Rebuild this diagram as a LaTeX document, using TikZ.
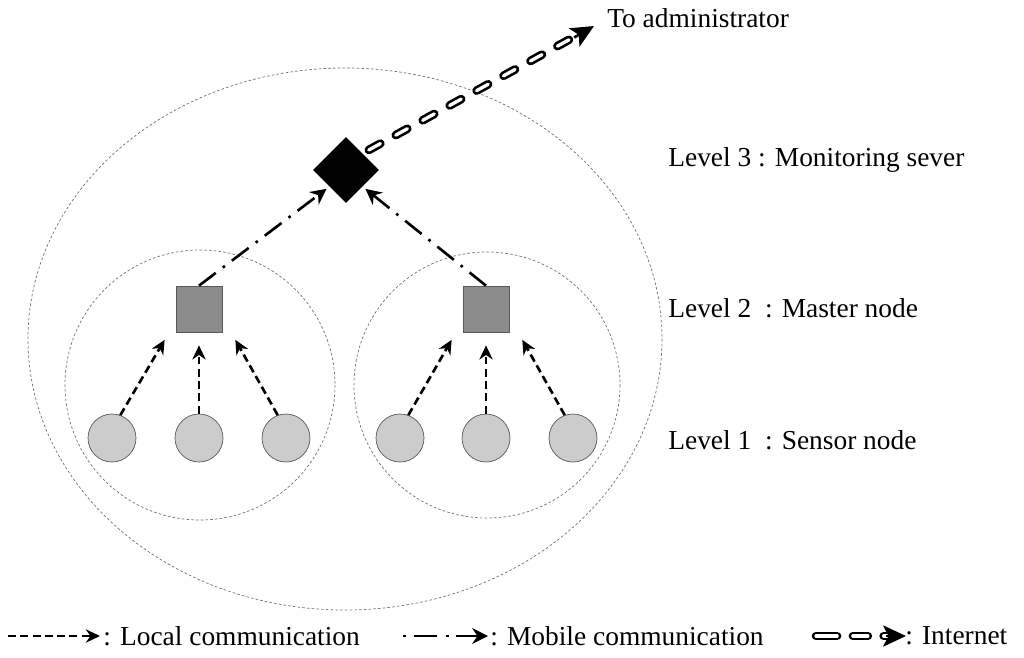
\documentclass[tikz,border=0pt]{standalone}
\usepackage{fontspec}
\setmainfont{Liberation Serif}
\usetikzlibrary{shapes.geometric, arrows.meta, positioning, calc}

\tikzset{
  sensor/.style={circle, draw=black!65, fill=black!20, minimum size=0.96cm, inner sep=0pt},
  master/.style={rectangle, draw=black!65, fill=black!45, minimum size=0.92cm, inner sep=0pt},
  monitor/.style={diamond, fill=black, minimum size=1.32cm, inner sep=0pt},
  zone/.style={draw=black!55, dash pattern=on 1.5pt off 1.2pt, line width=0.4pt},
  local/.style={-{Stealth[length=8pt,width=7.5pt,inset=2.5pt]}, line width=1.5pt, dash pattern=on 4.5pt off 2.5pt},
  mobile/.style={-{Stealth[length=9pt,width=9pt,inset=3pt]}, line width=1.5pt, dash pattern=on 12pt off 5pt on 1.5pt off 5pt},
  internet/.style={line width=1.5pt, double=white, double distance=1.9pt, line cap=round, dash pattern=on 7.5pt off 10pt},
  inettip/.style={-{Stealth[length=13pt,width=12pt,inset=3pt]}, line width=1.5pt},
  txt/.style={anchor=west, font=\fontsize{15.6}{18}\selectfont, inner sep=0pt},
}

\begin{document}
\begin{tikzpicture}[x=0.02cm, y=-0.02cm]
    \useasboundingbox (0,0) rectangle (1024,657);

    % zones
    \draw[zone] (345,339) ellipse [x radius=317, y radius=271];
    \draw[zone] (200,385) circle [radius=135];
    \draw[zone] (487,385) circle [radius=133];

    % level 3
    \node[monitor] (mon) at (346,170) {};

    % level 2
    \node[master] (lm) at (199,309) {};
    \node[master] (rm) at (486,309) {};

    % level 1
    \node[sensor] (s1) at (112,438) {};
    \node[sensor] (s2) at (199,438) {};
    \node[sensor] (s3) at (286,438) {};
    \node[sensor] (s4) at (400,438) {};
    \node[sensor] (s5) at (486,438) {};
    \node[sensor] (s6) at (573,438) {};

    \draw[local] (s1.70) -- ([xshift=-0.22cm,yshift=-0.15cm]lm.south west);
    \draw[local] (s2.north) -- ([yshift=-0.26cm]lm.south);
    \draw[local] (s3.110) -- ([xshift=0.26cm,yshift=-0.15cm]lm.south east);
    \draw[local] (s4.70) -- ([xshift=-0.22cm,yshift=-0.15cm]rm.south west);
    \draw[local] (s5.north) -- ([yshift=-0.26cm]rm.south);
    \draw[local] (s6.110) -- ([xshift=0.26cm,yshift=-0.15cm]rm.south east);

    \draw[mobile, shorten >=2pt] (lm.north) -- (mon.south west);
    \draw[mobile, shorten >=2pt] (rm.north) -- (mon.south east);

    \coordinate (adm) at (594,26);
    \draw[internet, dash phase=13.5pt, shorten >=12pt] (mon.north east) -- (adm);
    \draw[inettip] ($(adm)!13pt!(mon)$) -- (adm);
    \node[txt] (admtxt) at (607,18) {To administrator};

    \node[txt] (lv3) at (668,160) {Level 3 : Monitoring sever};
    \node[txt] (lv2) at (668,308) {Level 2\ \ : Master node};
    \node[txt] (lv1) at (668,440) {Level 1\ \ : Sensor node};

    % legend
    \coordinate (la) at (8,636);   \coordinate (lb) at (100,636);
    \coordinate (ma) at (403,636); \coordinate (mb) at (488,636);
    \coordinate (ia) at (816,636); \coordinate (ib) at (906,636);
    \draw[local] (la) -- (lb);
    \draw[mobile, dash pattern=on 1.5pt off 5pt on 13pt off 5pt on 1.5pt off 4pt on 30pt] (ma) -- (mb);
    \draw[internet, dash pattern=on 12pt off 9pt on 8.5pt off 9pt on 20pt] (ia) -- ($(ib)+(-12,0)$);
    \draw[inettip] ($(ib)+(-20,0)$) -- (ib);
    \node[txt] (loctxt) at (103,636) {: Local communication};
    \node[txt] (mobtxt) at (490,636) {: Mobile communication};
    \node[txt] (inttxt) at (905,636) {: Internet};
\end{tikzpicture}
\end{document}
